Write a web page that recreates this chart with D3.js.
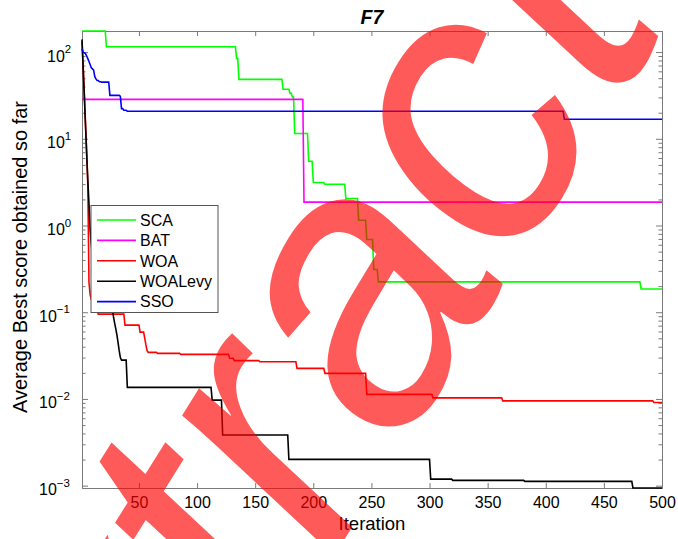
<!DOCTYPE html>
<html>
<head>
<meta charset="utf-8">
<script src="https://cdn.jsdelivr.net/npm/d3@7"></script>
<style>
  body { margin: 0; background: #fff; }
  svg { display: block; font-family: "Liberation Sans", Arial, Helvetica, sans-serif; }
</style>
</head>
<body>
<svg id="chart"></svg>
<script>
// legend order = plot order
const names = ["SCA", "BAT", "WOA", "WOALevy", "SSO"];
const colors = ["#00ff00", "#ff00ff", "#ff0000", "#000000", "#0000ff"];

// each series: iteration where the best score changes, and the new score
const scaIter = [1, 22, 134, 136, 174, 180, 182, 184, 196, 200, 210, 228, 239, 246, 252, 256, 482];
const scaVal = [175, 115, 84, 48.4, 37.2, 33.4, 30.3, 11.5, 5.5, 3.13, 2.99, 2.05, 1.15, 0.69, 0.311, 0.224, 0.185];

const batIter = [1, 192];
const batVal = [28.5, 1.86];

const woaIter = [1, 2, 3, 4, 5, 6, 7, 8, 9, 11, 13, 15, 38, 51, 55, 56, 57, 58, 66, 86, 128, 132, 154, 186, 210, 246, 303, 363, 493];
const woaVal = [132, 68, 33, 15, 7, 3, 0.22, 0.16, 0.14, 0.12, 0.105, 0.095, 0.071, 0.059, 0.05, 0.042, 0.036, 0.0344, 0.0335, 0.0327, 0.0295, 0.0277, 0.0268, 0.0225, 0.0197, 0.0113, 0.0103, 0.0095, 0.0091];

const levyIter = [1, 2, 3, 4, 5, 6, 7, 8, 9, 10, 12, 15, 18, 22, 26, 28, 29, 30, 31, 32, 33, 34, 35, 40, 113, 122, 179, 301, 320, 382, 475];
const levyVal = [140, 66, 31, 14.5, 6.8, 3.3, 1.8, 0.9, 0.6, 0.45, 0.35, 0.25, 0.2, 0.15, 0.11, 0.09, 0.076, 0.065, 0.055, 0.045, 0.036, 0.03, 0.028, 0.0136, 0.0097, 0.00384, 0.00201, 0.00119, 0.00115, 0.00112, 0.00094];

const ssoIter = [1, 2, 3, 4, 5, 6, 7, 8, 9, 10, 11, 12, 13, 14, 16, 18, 25, 34, 35, 37, 40, 416];
const ssoVal = [109, 100, 98, 96, 90, 84, 78, 72, 66, 64, 62, 52, 49, 47, 45.5, 45, 31.7, 30.9, 22.3, 21.3, 20.8, 16.8];

const xTicks = [50, 100, 150, 200, 250, 300, 350, 400, 450, 500];
const yTicks = [1e-3, 1e-2, 1e-1, 1, 10, 100];
const yExp = [-3, -2, -1, 0, 1, 2];

const width = 678;
const height = 539;
const plotLeft = 82;
const plotRight = 662;
const plotTop = 31;
const plotBottom = 488;
const maxIter = 500;
const axisColor = "#7a7a7a";

const svg = d3.select("#chart").attr("width", width).attr("height", height);

// best-so-far is held between changes
const expand = (iters, vals) => {
  const out = [];
  let k = 0;
  for (let i = 1; i <= maxIter; i++) {
    while (k + 1 < iters.length && iters[k + 1] <= i) k++;
    out.push({ it: i, v: vals[k] });
  }
  return out;
};

const series = [
  expand(scaIter, scaVal),
  expand(batIter, batVal),
  expand(woaIter, woaVal),
  expand(levyIter, levyVal),
  expand(ssoIter, ssoVal),
];

const allVals = series.flat().map((d) => d.v);

const xScale = d3.scaleLinear().domain([1, maxIter]).range([plotLeft, plotRight]);
const yScale = d3.scaleLog().domain(d3.extent(allVals)).range([plotBottom, plotTop]);

// minor log ticks
const minor = [];
for (let k = -4; k <= 2; k++) {
  for (let m = 2; m <= 9; m++) {
    const v = m * Math.pow(10, k);
    if (v >= yScale.domain()[0] && v <= yScale.domain()[1]) minor.push(v);
  }
}

const styleAxis = (g) => {
  g.selectAll("path").attr("stroke", axisColor).attr("stroke-width", 1);
  g.selectAll("line").attr("stroke", axisColor).attr("stroke-width", 1);
};

// bottom axis with labels
svg
  .append("g")
  .attr("transform", "translate(0," + plotBottom + ")")
  .call(d3.axisBottom(xScale).tickValues(xTicks).tickSizeInner(-5).tickSizeOuter(0).tickPadding(9))
  .call(styleAxis)
  .call((g) => g.selectAll("text").attr("font-size", 16).attr("fill", "#000"))
  .attr("font-family", null);

svg
  .append("g")
  .attr("transform", "translate(0," + plotTop + ")")
  .call(d3.axisTop(xScale).tickValues(xTicks).tickSizeInner(-5).tickSizeOuter(0).tickFormat(""))
  .call(styleAxis);

svg
  .append("g")
  .attr("transform", "translate(" + plotLeft + ",0)")
  .call(d3.axisLeft(yScale).tickValues(yTicks).tickSizeInner(-6).tickSizeOuter(0).tickFormat(""))
  .call(styleAxis);
svg
  .append("g")
  .attr("transform", "translate(" + plotLeft + ",0)")
  .call(d3.axisLeft(yScale).tickValues(minor).tickSizeInner(-3.5).tickSizeOuter(0).tickFormat(""))
  .call(styleAxis);

svg
  .append("g")
  .attr("transform", "translate(" + plotRight + ",0)")
  .call(d3.axisRight(yScale).tickValues(yTicks).tickSizeInner(-6).tickSizeOuter(0).tickFormat(""))
  .call(styleAxis);
svg
  .append("g")
  .attr("transform", "translate(" + plotRight + ",0)")
  .call(d3.axisRight(yScale).tickValues(minor).tickSizeInner(-3.5).tickSizeOuter(0).tickFormat(""))
  .call(styleAxis);

// y tick labels as 10^n
const yLab = svg
  .append("g")
  .selectAll("text")
  .data(yTicks)
  .enter()
  .append("text")
  .attr("x", (d, i) => (yExp[i] < 0 ? plotLeft - 43 : plotLeft - 35))
  .attr("y", (d) => yScale(d) + 9.5)
  .attr("font-size", 16)
  .attr("fill", "#000");
yLab.append("tspan").text("10");
yLab
  .append("tspan")
  .attr("dy", -8.5)
  .attr("font-size", 11.5)
  .text((d, i) => (yExp[i] < 0 ? "\u2212" + Math.abs(yExp[i]) : yExp[i]));

// lines
const line = d3
  .line()
  .x((d) => xScale(d.it))
  .y((d) => yScale(d.v));

svg
  .append("g")
  .selectAll("path")
  .data(series)
  .enter()
  .append("path")
  .attr("d", line)
  .attr("fill", "none")
  .attr("stroke", (d, i) => colors[i])
  .attr("stroke-width", 1.6);

// titles
svg
  .append("text")
  .attr("x", (plotLeft + plotRight) / 2)
  .attr("y", 24)
  .attr("text-anchor", "middle")
  .attr("font-size", 19.5)
  .attr("font-weight", "bold")
  .attr("font-style", "italic")
  .text("F7");

svg
  .append("text")
  .attr("x", (plotLeft + plotRight) / 2)
  .attr("y", 530)
  .attr("text-anchor", "middle")
  .attr("font-size", 18.5)
  .text("Iteration");

svg
  .append("text")
  .attr("transform", "translate(27,257) rotate(-90)")
  .attr("text-anchor", "middle")
  .attr("font-size", 20)
  .text("Average Best score obtained so far");

// legend
const legend = svg.append("g").attr("transform", "translate(91,205.5)");
legend
  .append("rect")
  .attr("width", 127)
  .attr("height", 107)
  .attr("fill", "#fff")
  .attr("stroke", "#555")
  .attr("stroke-width", 1);

const item = legend
  .selectAll("g")
  .data(names)
  .enter()
  .append("g")
  .attr("transform", (d, i) => "translate(0," + (14.5 + i * 20.4) + ")");
item
  .append("line")
  .attr("x1", 6)
  .attr("x2", 45)
  .attr("stroke", (d, i) => colors[i])
  .attr("stroke-width", 1.6);
item
  .append("text")
  .attr("x", 49)
  .attr("y", 5.8)
  .attr("font-size", 16)
  .text((d) => d);

// watermark across the whole picture
svg
  .append("text")
  .attr("transform", "translate(36,1033) rotate(-58)")
  .attr("font-size", 385)
  .attr("font-style", "italic")
  .attr("fill", "#ff0000")
  .attr("fill-opacity", 0.647)
  .text("Extract");
</script>
</body>
</html>
